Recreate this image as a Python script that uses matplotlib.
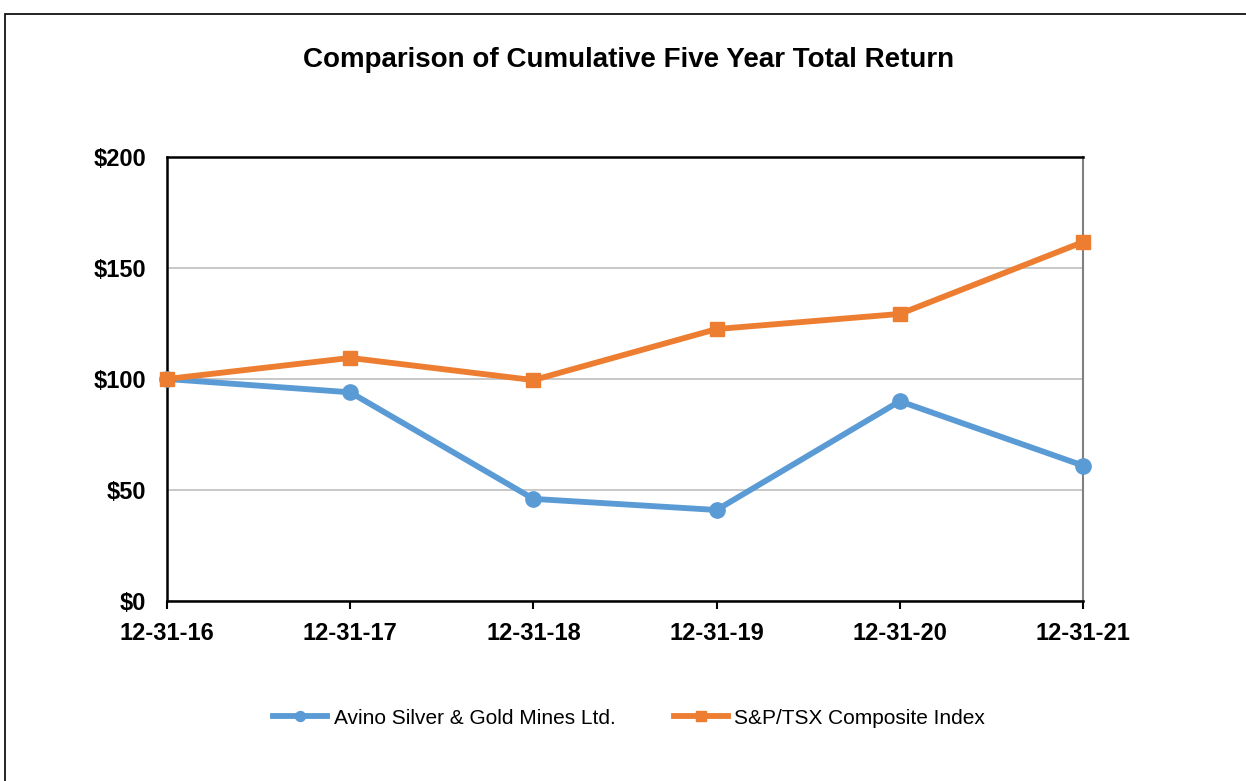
import numpy as np
import matplotlib.pyplot as plt
from matplotlib.patches import Rectangle

plt.rcParams['font.family'] = ['Liberation Sans', 'DejaVu Sans']

# data
dates = ['12-31-16', '12-31-17', '12-31-18', '12-31-19', '12-31-20', '12-31-21']
avino = [100, 94, 46, 41, 90, 61]
tsx = [100, 109.5, 99.5, 122.5, 129.3, 161.7]
yticks = [0, 50, 100, 150, 200]

fig = plt.figure(figsize=(12.46, 7.81), dpi=100)
ax = fig.add_axes([167 / 1246, 1 - 601 / 781, (1083 - 167) / 1246, (601 - 157) / 781])

x = np.arange(len(dates))
ax.plot(x, avino, color='#5B9BD5', lw=4.2, marker='o', ms=11,
        label='Avino Silver & Gold Mines Ltd.', zorder=3, clip_on=False)
ax.plot(x, tsx, color='#ED7D31', lw=4.2, marker='s', ms=10.5,
        label='S&P/TSX Composite Index', zorder=4, clip_on=False)

ax.set_xlim(0, len(dates) - 1)
ax.set_ylim(0, 200)
ax.set_xticks(x)
ax.set_xticklabels(dates, fontsize=17, fontweight='bold')
ax.set_yticks(yticks)
ax.set_yticklabels(['$' + str(v) for v in yticks], fontsize=17, fontweight='bold')
ax.tick_params(axis='y', length=0, pad=15)
ax.tick_params(axis='x', length=6, width=1.5, direction='out', pad=9)
ax.yaxis.grid(True, color='#BFBFBF', lw=1.2)
ax.set_axisbelow(True)

for s in ['left', 'bottom', 'top']:
    ax.spines[s].set_color('black')
    ax.spines[s].set_linewidth(1.8)
ax.spines['right'].set_color('#808080')
ax.spines['right'].set_linewidth(1.5)

fig.text(629 / 1246, 1 - 60 / 781, 'Comparison of Cumulative Five Year Total Return',
         ha='center', va='center', fontsize=20, fontweight='bold')

fig.legend(loc='center', bbox_to_anchor=(629 / 1246, 1 - 718 / 781), ncol=2,
           frameon=False, fontsize=15, handlelength=2.6, handletextpad=0.3,
           columnspacing=2.8, markerscale=0.65)

# outer chart border
fig.patches.append(Rectangle((5 / 1246, -0.1), 1.2, 1 - 14 / 781 + 0.1,
                             transform=fig.transFigure, fill=False,
                             edgecolor='black', lw=1.2))

fig.savefig('out.png', dpi=100)
